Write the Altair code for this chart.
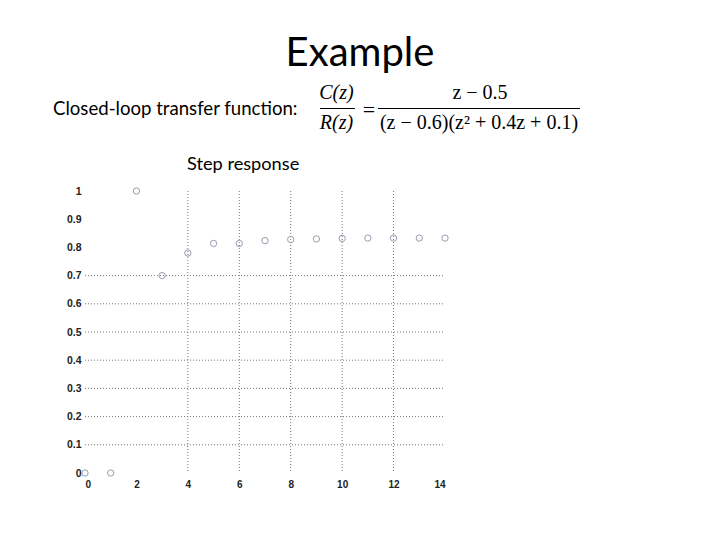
import altair as alt
import pandas as pd

# ---- data ----
steps = list(range(15))
response = [0.0, 0.0, 1.0, 0.70, 0.78, 0.814, 0.814, 0.824, 0.828, 0.830,
            0.832, 0.833, 0.833, 0.833, 0.833]
x_ticks = [0, 2, 4, 6, 8, 10, 12, 14]
y_ticks = [0, 0.1, 0.2, 0.3, 0.4, 0.5, 0.6, 0.7, 0.8, 0.9, 1.0]
x_grid = [4, 6, 8, 10, 12]
y_grid = [0.1, 0.2, 0.3, 0.4, 0.5, 0.6, 0.7]

title_text = ["Example"]
subtitle_text = ["Closed-loop transfer function:"]
plot_label = ["Step response"]
frac_left_num = ["C(z)"]
frac_left_den = ["R(z)"]
equals_sign = ["="]
frac_right_num = ["z − 0.5"]
frac_right_den = ["(z − 0.6)(z² + 0.4z + 0.1)"]

W, H = 360, 282

df = pd.DataFrame({"k": steps, "y": response})
xs = alt.Scale(domain=[0, 14], nice=False, zero=False)
ys = alt.Scale(domain=[0, 1], nice=False, zero=False)

label_font = "Liberation Sans"

x_axis = alt.Axis(values=x_ticks, grid=False, domain=False, ticks=False,
                  labelFont=label_font, labelFontSize=10, labelFontWeight="bold",
                  labelColor="#222", labelPadding=6, format="d", labelOverlap=False)
y_axis = alt.Axis(values=y_ticks, grid=False, domain=False, ticks=False,
                  labelFont=label_font, labelFontSize=10.5, labelFontWeight="bold",
                  labelColor="#222", labelPadding=4, labelOverlap=False,
                  labelExpr="datum.value == 0 ? '0' : (datum.value == 1 ? '1' : format(datum.value, '.1f'))")

points = alt.Chart(df).mark_point(
    filled=False, shape="circle", size=40, color="#9a9ab2", strokeWidth=1, opacity=1
).encode(
    x=alt.X("k:Q", scale=xs, title=None, axis=x_axis),
    y=alt.Y("y:Q", scale=ys, title=None, axis=y_axis),
)

vgrid = alt.Chart(pd.DataFrame({"g": x_grid})).mark_rule(
    color="#777", strokeDash=[1, 2], strokeWidth=1
).encode(x=alt.X("g:Q", scale=xs, title=None, axis=x_axis),
         y=alt.value(0), y2=alt.value(H))

hgrid = alt.Chart(pd.DataFrame({"g": y_grid})).mark_rule(
    color="#777", strokeDash=[1, 2], strokeWidth=1
).encode(y=alt.Y("g:Q", scale=ys, title=None, axis=y_axis),
         x=alt.value(0), x2=alt.value(W))


def label(texts, x, y, size, font="Lato", align="left", baseline="alphabetic",
          style="normal", color="#000"):
    return alt.Chart(pd.DataFrame({"t": texts})).mark_text(
        font=font, fontSize=size, align=align, baseline=baseline,
        fontStyle=style, color=color
    ).encode(text="t:N", x=alt.value(x), y=alt.value(y))


title = label(title_text, 275, -125, 40, align="center")
sub = label(subtitle_text, -32, -76, 18.6)
plab = label(plot_label, 102, -21, 18.2)

serif = "Liberation Serif"
c_num = label(frac_left_num, 251.5, -92.5, 20, font=serif, align="center", style="italic")
c_den = label(frac_left_den, 251.5, -62.5, 20, font=serif, align="center", style="italic")
eq = label(equals_sign, 284, -81, 22, font=serif, align="center", baseline="middle")
r_num = label(frac_right_num, 395, -92.5, 20, font=serif, align="center")
r_den = label(frac_right_den, 394, -62.5, 20, font=serif, align="center")

bar1 = alt.Chart(pd.DataFrame({"t": [0]})).mark_rule(color="#000", strokeWidth=1.2).encode(
    x=alt.value(235), x2=alt.value(270), y=alt.value(-82.5))
bar2 = alt.Chart(pd.DataFrame({"t": [0]})).mark_rule(color="#000", strokeWidth=1.2).encode(
    x=alt.value(293), x2=alt.value(495), y=alt.value(-82.5))

chart = alt.layer(
    vgrid, hgrid, points, title, sub, plab, c_num, c_den, eq, r_num, r_den, bar1, bar2
).properties(
    width=W, height=H,
    autosize=alt.AutoSizeParams(type="none"),
    padding={"left": 77, "top": 183, "right": 260, "bottom": 50},
    background="white",
).configure_view(stroke=None)

chart.save("out.html", embed_options={"renderer": "svg", "actions": False})
